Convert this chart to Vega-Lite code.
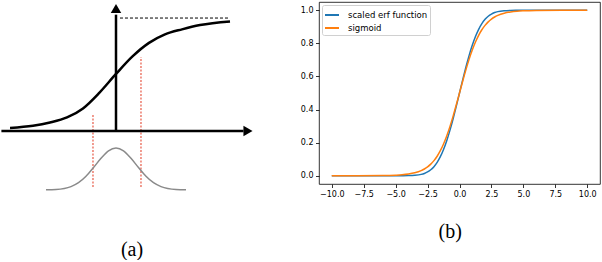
{
  "$schema": "https://vega.github.io/schema/vega-lite/v6.json",
  "padding": {"left": 0, "top": 1, "right": 0, "bottom": 0},
  "spacing": 39,
  "resolve": {"scale": {"color": "independent"}, "legend": {"color": "independent"}},
  "config": {
    "view": {"stroke": null},
    "font": "DejaVu Sans",
    "axis": {"domain": false, "grid": false, "tickColor": "black", "tickSize": 3.5, "tickWidth": 0.8, "labelColor": "black", "labelFont": "DejaVu Sans", "labelFontSize": 8, "labelPadding": 2.5, "title": null}
  },
  "hconcat": [
    {
      "width": 260,
      "height": 258,
      "encoding": {
        "x": {"field": "x", "type": "quantitative", "scale": {"domain": [-3.8667, 4.8], "nice": false, "zero": false}, "axis": null},
        "y": {"field": "y", "type": "quantitative", "scale": {"domain": [-1.142, 1.142], "nice": false, "zero": false}, "axis": null}
      },
      "layer": [
        {
          "data": {"values": [{"x": -0.767, "y": -0.496, "y2": 0.15}, {"x": 0.833, "y": -0.496, "y2": 0.655}]},
          "mark": {"type": "rule", "color": "#e2361f", "strokeWidth": 1, "strokeDash": [2, 1.5]},
          "encoding": {"y2": {"field": "y2"}}
        },
        {
          "data": {"values": [
            {"x": -2.333, "y": -0.521}, {"x": -2, "y": -0.518}, {"x": -1.5, "y": -0.492}, {"x": -1.25, "y": -0.458},
            {"x": -1, "y": -0.401}, {"x": -0.75, "y": -0.324}, {"x": -0.5, "y": -0.241}, {"x": -0.25, "y": -0.175},
            {"x": 0, "y": -0.15}, {"x": 0.25, "y": -0.175}, {"x": 0.5, "y": -0.241}, {"x": 0.75, "y": -0.324},
            {"x": 1, "y": -0.401}, {"x": 1.25, "y": -0.458}, {"x": 1.5, "y": -0.492}, {"x": 2, "y": -0.518}, {"x": 2.333, "y": -0.521}
          ]},
          "mark": {"type": "line", "color": "#8a8a8a", "strokeWidth": 1.5, "interpolate": "monotone"}
        },
        {
          "data": {"values": [{"x": 0.133, "x2": 3.8, "y": 1.0}]},
          "mark": {"type": "rule", "color": "black", "strokeWidth": 1, "strokeDash": [3, 2]},
          "encoding": {"x2": {"field": "x2"}}
        },
        {
          "data": {"values": [{"x": -3.82, "x2": 4.25, "y": 0, "y2": 0}, {"x": 0, "x2": 0, "y": 0, "y2": 1.03}]},
          "mark": {"type": "rule", "color": "black", "strokeWidth": 2.5},
          "encoding": {"x2": {"field": "x2"}, "y2": {"field": "y2"}}
        },
        {
          "data": {"values": [{"x": 4.4, "y": 0}]},
          "mark": {"type": "point", "shape": "triangle-right", "filled": true, "color": "black", "size": 110, "opacity": 1}
        },
        {
          "data": {"values": [{"x": 0, "y": 1.085}]},
          "mark": {"type": "point", "shape": "triangle-up", "filled": true, "color": "black", "size": 110, "opacity": 1}
        },
        {
          "data": {"values": [
            {"x": -3.533, "y": 0.027}, {"x": -2.767, "y": 0.046}, {"x": -2.2, "y": 0.075}, {"x": -1.633, "y": 0.12},
            {"x": -1.1, "y": 0.2}, {"x": -0.55, "y": 0.34}, {"x": 0, "y": 0.505}, {"x": 0.55, "y": 0.66},
            {"x": 1.1, "y": 0.78}, {"x": 1.633, "y": 0.855}, {"x": 2.2, "y": 0.9}, {"x": 2.8, "y": 0.938}, {"x": 3.8, "y": 0.97}
          ]},
          "mark": {"type": "line", "color": "black", "strokeWidth": 2.5, "interpolate": "monotone"}
        },
        {
          "data": {"values": [{"x": 0.533, "y": -1.05, "label": "(a)"}]},
          "mark": {"type": "text", "font": "Liberation Serif", "fontSize": 20, "color": "black", "baseline": "middle", "align": "center"},
          "encoding": {"text": {"field": "label"}}
        }
      ]
    },
    {
      "width": 281,
      "height": 182,
      "view": {"stroke": "black", "strokeWidth": 0.8},
      "title": {"text": "(b)", "orient": "bottom", "frame": "bounds", "anchor": "middle", "font": "Liberation Serif", "fontSize": 20, "fontWeight": "normal", "color": "black", "offset": 24},
      "data": {"values": [
        {"series": "scaled erf function", "x": -10, "y": 0}, {"series": "scaled erf function", "x": -8, "y": 0},
        {"series": "scaled erf function", "x": -6, "y": 0}, {"series": "scaled erf function", "x": -5, "y": 0},
        {"series": "scaled erf function", "x": -4.5, "y": 0.0002}, {"series": "scaled erf function", "x": -4, "y": 0.0007},
        {"series": "scaled erf function", "x": -3.5, "y": 0.0026}, {"series": "scaled erf function", "x": -3, "y": 0.0082},
        {"series": "scaled erf function", "x": -2.75, "y": 0.0139}, {"series": "scaled erf function", "x": -2.5, "y": 0.0228},
        {"series": "scaled erf function", "x": -2.25, "y": 0.0359}, {"series": "scaled erf function", "x": -2, "y": 0.0548},
        {"series": "scaled erf function", "x": -1.75, "y": 0.0808}, {"series": "scaled erf function", "x": -1.5, "y": 0.1151},
        {"series": "scaled erf function", "x": -1.25, "y": 0.1587}, {"series": "scaled erf function", "x": -1, "y": 0.2119},
        {"series": "scaled erf function", "x": -0.75, "y": 0.2743}, {"series": "scaled erf function", "x": -0.5, "y": 0.3446},
        {"series": "scaled erf function", "x": -0.25, "y": 0.4207}, {"series": "scaled erf function", "x": 0, "y": 0.5},
        {"series": "scaled erf function", "x": 0.25, "y": 0.5793}, {"series": "scaled erf function", "x": 0.5, "y": 0.6554},
        {"series": "scaled erf function", "x": 0.75, "y": 0.7257}, {"series": "scaled erf function", "x": 1, "y": 0.7881},
        {"series": "scaled erf function", "x": 1.25, "y": 0.8413}, {"series": "scaled erf function", "x": 1.5, "y": 0.8849},
        {"series": "scaled erf function", "x": 1.75, "y": 0.9192}, {"series": "scaled erf function", "x": 2, "y": 0.9452},
        {"series": "scaled erf function", "x": 2.25, "y": 0.9641}, {"series": "scaled erf function", "x": 2.5, "y": 0.9772},
        {"series": "scaled erf function", "x": 2.75, "y": 0.9861}, {"series": "scaled erf function", "x": 3, "y": 0.9918},
        {"series": "scaled erf function", "x": 3.5, "y": 0.9974}, {"series": "scaled erf function", "x": 4, "y": 0.9993},
        {"series": "scaled erf function", "x": 4.5, "y": 0.9998}, {"series": "scaled erf function", "x": 5, "y": 1},
        {"series": "scaled erf function", "x": 6, "y": 1}, {"series": "scaled erf function", "x": 8, "y": 1},
        {"series": "scaled erf function", "x": 10, "y": 1},
        {"series": "sigmoid", "x": -10, "y": 0}, {"series": "sigmoid", "x": -8, "y": 0.0001},
        {"series": "sigmoid", "x": -6, "y": 0.001}, {"series": "sigmoid", "x": -5, "y": 0.0032},
        {"series": "sigmoid", "x": -4.5, "y": 0.0056}, {"series": "sigmoid", "x": -4, "y": 0.01},
        {"series": "sigmoid", "x": -3.5, "y": 0.0175}, {"series": "sigmoid", "x": -3, "y": 0.0307},
        {"series": "sigmoid", "x": -2.75, "y": 0.0406}, {"series": "sigmoid", "x": -2.5, "y": 0.0534},
        {"series": "sigmoid", "x": -2.25, "y": 0.07}, {"series": "sigmoid", "x": -2, "y": 0.0912},
        {"series": "sigmoid", "x": -1.75, "y": 0.1179}, {"series": "sigmoid", "x": -1.5, "y": 0.1512},
        {"series": "sigmoid", "x": -1.25, "y": 0.1919}, {"series": "sigmoid", "x": -1, "y": 0.2405},
        {"series": "sigmoid", "x": -0.75, "y": 0.2968}, {"series": "sigmoid", "x": -0.5, "y": 0.3601},
        {"series": "sigmoid", "x": -0.25, "y": 0.4286}, {"series": "sigmoid", "x": 0, "y": 0.5},
        {"series": "sigmoid", "x": 0.25, "y": 0.5714}, {"series": "sigmoid", "x": 0.5, "y": 0.6399},
        {"series": "sigmoid", "x": 0.75, "y": 0.7032}, {"series": "sigmoid", "x": 1, "y": 0.7595},
        {"series": "sigmoid", "x": 1.25, "y": 0.8081}, {"series": "sigmoid", "x": 1.5, "y": 0.8488},
        {"series": "sigmoid", "x": 1.75, "y": 0.8821}, {"series": "sigmoid", "x": 2, "y": 0.9088},
        {"series": "sigmoid", "x": 2.25, "y": 0.93}, {"series": "sigmoid", "x": 2.5, "y": 0.9466},
        {"series": "sigmoid", "x": 2.75, "y": 0.9594}, {"series": "sigmoid", "x": 3, "y": 0.9693},
        {"series": "sigmoid", "x": 3.5, "y": 0.9825}, {"series": "sigmoid", "x": 4, "y": 0.99},
        {"series": "sigmoid", "x": 4.5, "y": 0.9944}, {"series": "sigmoid", "x": 5, "y": 0.9968},
        {"series": "sigmoid", "x": 6, "y": 0.999}, {"series": "sigmoid", "x": 8, "y": 0.9999},
        {"series": "sigmoid", "x": 10, "y": 1}
      ]},
      "mark": {"type": "line", "strokeWidth": 1.5, "interpolate": "monotone"},
      "encoding": {
        "x": {"field": "x", "type": "quantitative", "scale": {"domain": [-11, 11], "nice": false, "zero": false}, "axis": {"values": [-10, -7.5, -5, -2.5, 0, 2.5, 5, 7.5, 10], "format": ".1f", "labelFlush": false}},
        "y": {"field": "y", "type": "quantitative", "scale": {"domain": [-0.05, 1.05], "nice": false, "zero": false}, "axis": {"values": [0, 0.2, 0.4, 0.6, 0.8, 1], "format": ".1f"}},
        "color": {"field": "series", "type": "nominal", "scale": {"domain": ["scaled erf function", "sigmoid"], "range": ["#1f77b4", "#ff7f0e"]},
          "legend": {"title": null, "orient": "top-left", "offset": 3, "symbolType": "stroke", "symbolSize": 196, "symbolStrokeWidth": 2, "labelFont": "DejaVu Sans", "labelFontSize": 8.5, "labelColor": "black", "labelOffset": 8, "fillColor": "white", "strokeColor": "#d0d0d0", "cornerRadius": 2, "padding": 2, "rowPadding": 0}}
      }
    }
  ]
}
